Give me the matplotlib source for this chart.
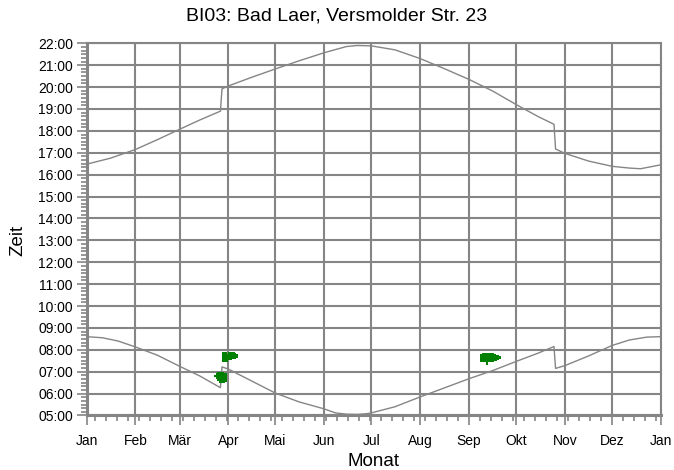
import numpy as np
import matplotlib
matplotlib.use("Agg")
import matplotlib.pyplot as plt
from matplotlib.ticker import FixedLocator

plt.rcParams['font.family'] = ['Liberation Sans', 'DejaVu Sans']

# ---- data (day of year 0..365, hours local time) ----
month_days = [0, 31, 59, 90, 120, 151, 181, 212, 243, 273, 304, 334, 365]
month_labels = ["Jan", "Feb", "Mär", "Apr", "Mai", "Jun", "Jul", "Aug",
                "Sep", "Okt", "Nov", "Dez", "Jan"]
hour_ticks = list(range(5, 23))
hour_labels = [f"{h:02d}:00" for h in hour_ticks]

rise_day = [0, 10, 20, 31, 45, 59, 72, 85, 86, 90, 105, 120, 135, 151, 158,
            165, 172, 178, 181, 196, 212, 227, 243, 258, 273, 287, 297, 298,
            304, 319, 334, 345, 356, 365]
rise_h = [8.60, 8.55, 8.40, 8.13, 7.75, 7.25, 6.80, 6.27, 7.22, 7.12, 6.57,
          6.02, 5.62, 5.30, 5.12, 5.06, 5.05, 5.08, 5.12, 5.40, 5.85, 6.25,
          6.68, 7.05, 7.47, 7.85, 8.15, 7.15, 7.28, 7.72, 8.20, 8.45, 8.58,
          8.60]

set_day = [0, 15, 31, 45, 59, 72, 85, 86, 90, 105, 120, 135, 151, 165, 172,
           181, 196, 212, 227, 243, 258, 273, 287, 297, 298, 304, 319, 334,
           345, 352, 365]
set_h = [16.48, 16.75, 17.15, 17.60, 18.07, 18.50, 18.90, 19.92, 20.05,
         20.45, 20.83, 21.20, 21.57, 21.85, 21.90, 21.88, 21.70, 21.30,
         20.85, 20.35, 19.82, 19.20, 18.65, 18.30, 17.17, 16.97, 16.62,
         16.38, 16.30, 16.27, 16.45]

# shadow periods (per day: begin / end)
shadow_day = [81, 82, 83, 84, 85, 86, 87, 88,
              86, 87, 88, 89, 90, 91, 92, 93, 94, 95,
              250, 251, 252, 253, 254, 255, 256, 257, 258, 259, 260, 261, 262]
shadow_beg = [6.75, 6.68, 6.58, 6.50, 6.48, 6.48, 6.50, 6.55,
              7.45, 7.45, 7.45, 7.45, 7.52, 7.55, 7.56, 7.58, 7.60, 7.63,
              7.45, 7.42, 7.42, 7.42, 7.30, 7.42, 7.42, 7.42, 7.44, 7.47,
              7.50, 7.53, 7.56]
shadow_end = [6.85, 6.92, 6.97, 6.97, 6.97, 6.97, 6.95, 6.92,
              7.92, 7.92, 7.92, 7.82, 7.92, 7.92, 7.92, 7.92, 7.87, 7.82,
              7.82, 7.84, 7.84, 7.84, 7.84, 7.84, 7.84, 7.84, 7.84, 7.80,
              7.78, 7.75, 7.70]

GRAY = "#858585"

fig = plt.figure(figsize=(6.74, 4.70), dpi=100)
ax = fig.add_axes([0.1286, 0.1160, 0.8521, 0.7919])

ax.plot(rise_day, rise_h, color=GRAY, lw=1.0, zorder=3)
ax.plot(set_day, set_h, color=GRAY, lw=1.0, zorder=3)
sb = np.array(shadow_beg)
se = np.array(shadow_end)
ax.bar(shadow_day, se - sb, bottom=sb, width=1.05, align="edge",
       color="#008000", lw=0, zorder=4)

ax.set_xlim(0, 365)
ax.set_ylim(5, 22)
ax.set_xticks(month_days)
ax.set_xticklabels(month_labels, fontsize=10)
ax.set_yticks(hour_ticks)
ax.set_yticklabels(hour_labels, fontsize=10)
ax.xaxis.set_minor_locator(FixedLocator(np.arange(5, 365, 7)))
ax.yaxis.set_minor_locator(FixedLocator(np.arange(5, 22.001, 1 / 6)))
ax.tick_params(axis="both", which="major", length=7, width=1.2,
               color=GRAY, pad=3)
ax.tick_params(axis="x", which="major", pad=6)
ax.tick_params(axis="both", which="minor", length=4.5, width=1.2, color=GRAY)

ax.grid(True, which="major", color=GRAY, lw=1.5, zorder=1)
ax.set_axisbelow(True)
for s in ["top", "right"]:
    ax.spines[s].set_color(GRAY)
    ax.spines[s].set_linewidth(1.5)
for s in ["left", "bottom"]:
    ax.spines[s].set_color(GRAY)
    ax.spines[s].set_linewidth(2.2)

fig.text(0.5, 1 - 16 / 470, "BI03: Bad Laer, Versmolder Str. 23",
         ha="center", va="center", fontsize=14)
fig.text(0.027, 1 - 240 / 470, "Zeit", rotation=90, ha="center",
         va="center", fontsize=13.5)
fig.text(374 / 674, 1 - 461 / 470, "Monat", ha="center", va="center",
         fontsize=13.5)

fig.savefig("out.png", dpi=100)
